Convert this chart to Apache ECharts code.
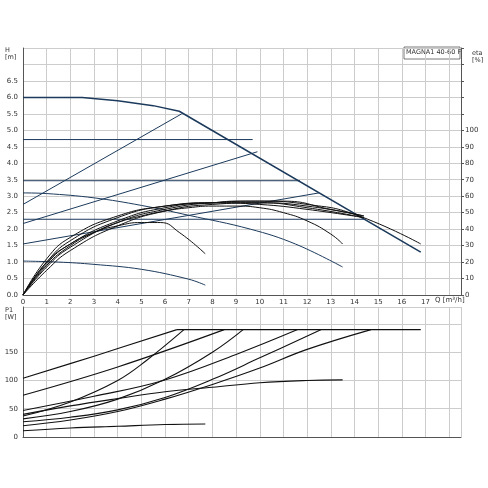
<!DOCTYPE html><html><head><meta charset="utf-8">
<script src="https://cdn.jsdelivr.net/npm/echarts@6/dist/echarts.min.js"></script>
<style>html,body{margin:0;background:#fff}#c{width:488px;height:488px}</style></head><body><div id="c"></div>
<script>
// H curves [Q m3/h, H m]
const hMax = [[0,6.0],[2.5,6.0],[4,5.9],[5.5,5.75],[6.6,5.58],[16.8,1.3]];
const hConst1 = [[0,4.72],[9.7,4.72]];
const hConst2 = [[0,3.47],[11.7,3.47]];
const hConst3 = [[0,2.3],[14.4,2.3]];
const hProp1 = [[0,2.75],[6.7,5.5]];
const hProp2 = [[0,2.17],[9.9,4.35]];
const hProp3 = [[0,1.55],[12.5,3.1]];
const hSpeed1 = [[0,3.1],[1,3.08],[3,2.95],[5,2.72],[7,2.42],[9.6,2.0],[11.5,1.55],[13.5,0.85]];
const hSpeed2 = [[0,1.03],[1.5,1.0],[3,0.93],[5,0.78],[7,0.48],[7.7,0.3]];
// eta curves [Q, %]
const eta1 = [[0,0],[1,20],[2,31],[3,38],[4,42],[5,44],[5.8,44],[6.6,38],[7.7,25]];
const eta2 = [[0,0],[1,18],[2,30],[3,38],[4,44],[5,48],[6,51],[7,53],[8,54],[9,54],[10,53],[11,50],[12,45],[13,37],[13.5,31]];
const eta3 = [[0,0],[1,15],[2,27],[4,42],[6,51],[8,55],[10,56],[12,53],[14.4,47]];
const eta4 = [[0,0],[1,17],[2,29],[4,44],[6,52],[8,56],[10,57],[12,55],[14,49],[16.8,31]];
const eta5 = [[0,0],[1,20],[2,33],[4,47],[6,54],[8,56],[10,55],[12,52],[14.4,47]];
const eta6 = [[0,0],[1,22],[2,35],[4,48],[6,54],[8,56],[9,57],[11,57],[13,52],[14.4,48]];
const eta7 = [[0,0],[1,19],[2,31],[4,45],[6,53],[8,56],[10,56],[12,54],[14.4,48]];
// P1 curves [Q, W]
const pA = [[0,104],[3,143],[6.5,190]];
const pB = [[0,74],[4,124],[8.5,190]];
const pC = [[0,47],[3,72],[6,101],[9,146],[11.6,190]];
const pD = [[0,37],[2,62],[4,100],[5.2,135],[6.8,190]];
const pE = [[0,32],[2,45],[4,67],[6,102],[8,150],[9.3,190]];
const pF = [[0,27],[2,35],[4,48],[6,70],[8,102],[10,140],[12.6,190]];
const pG = [[0,20],[2,30],[4,45],[6,67],[8,93],[10,122],[12,155],[14.7,190]];
const pMax = [[6.5,190],[16.8,190]];
const pH = [[0,40],[2,55],[4,68],[6,80],[8,88],[10,96],[12,100],[13.5,101]];
const pI = [[0,11],[2,16],[4,19],[6,22],[7.7,23]];

const navy='#1c3a5c', blk='#111';
function s(d,opt){return Object.assign({type:'line',data:d,showSymbol:false,smooth:false,lineStyle:{width:1,color:navy},silent:true},opt||{});}
const series=[
 s(hMax,{lineStyle:{width:1.5,color:navy}}),
 s(hConst1),s(hConst2),s(hConst3),s(hProp1),s(hProp2),s(hProp3),
 s(hSpeed1,{smooth:0.4}),s(hSpeed2,{smooth:0.4}),
 ...[eta1,eta2,eta3,eta4,eta5,eta6,eta7].map(d=>s(d,{yAxisIndex:1,smooth:0.5,lineStyle:{width:1,color:blk}})),
 ...[pA,pB,pC,pD,pE,pF,pG,pMax,pH,pI].map(d=>s(d,{xAxisIndex:1,yAxisIndex:2,smooth:0.4,lineStyle:{width:1.1,color:blk}}))
];
const ax={fontSize:7,color:'#333',fontFamily:'DejaVu Sans'};
const split={show:true,lineStyle:{color:'#ccc',width:1}};
const c=echarts.init(document.getElementById('c'));
c.setOption({animation:false,
 grid:[{left:23,right:27,top:48,height:247},{left:23,right:27,top:307,height:130}],
 xAxis:[
  {gridIndex:0,type:'value',min:0,max:18.5,interval:1,axisLine:{lineStyle:{color:'#555'}},axisTick:{show:false},splitLine:split,
   axisLabel:Object.assign({margin:4,formatter:v=>v<=17?String(v):''},ax)},
  {gridIndex:1,type:'value',min:0,max:18.5,interval:1,axisLine:{lineStyle:{color:'#555'}},axisTick:{show:false},splitLine:split,axisLabel:{show:false}}
 ],
 yAxis:[
  {gridIndex:0,type:'value',min:0,max:7.5,interval:0.5,axisLine:{show:true,lineStyle:{color:'#555'}},axisTick:{show:false},splitLine:split,
   axisLabel:Object.assign({margin:5,formatter:v=>v<=6.5?v.toFixed(1):''},ax)},
  {gridIndex:0,type:'value',position:'right',min:0,max:150,interval:10,axisLine:{show:true,lineStyle:{color:'#555'}},
   axisTick:{show:true,length:3,lineStyle:{color:'#555'}},splitLine:{show:false},
   axisLabel:Object.assign({margin:4,formatter:v=>v<=100?String(v):''},ax)},
  {gridIndex:1,type:'value',min:0,max:230,interval:50,axisLine:{show:true,lineStyle:{color:'#555'}},axisTick:{show:false},splitLine:split,
   axisLabel:Object.assign({margin:5,formatter:v=>v<=150?String(v):''},ax)}
 ],
 graphic:[
  {type:'rect',shape:{x:404,y:47,width:56,height:12},style:{fill:'#fff',stroke:'#555',lineWidth:0.8}},
  {type:'text',x:406,y:49,style:{text:'MAGNA1 40-60 F',font:'6.5px DejaVu Sans',fill:'#333'}},
  {type:'text',x:5,y:47,style:{text:'H\n[m]',font:'6.5px DejaVu Sans',fill:'#333',align:'left'}},
  {type:'text',x:472,y:50,style:{text:'eta\n[%]',font:'6.5px DejaVu Sans',fill:'#333'}},
  {type:'text',x:5,y:307,style:{text:'P1\n[W]',font:'6.5px DejaVu Sans',fill:'#333'}},
  {type:'text',x:435,y:297,style:{text:'Q [m³/h]',font:'7px DejaVu Sans',fill:'#333'}}
 ],
 series});
</script></body></html>
